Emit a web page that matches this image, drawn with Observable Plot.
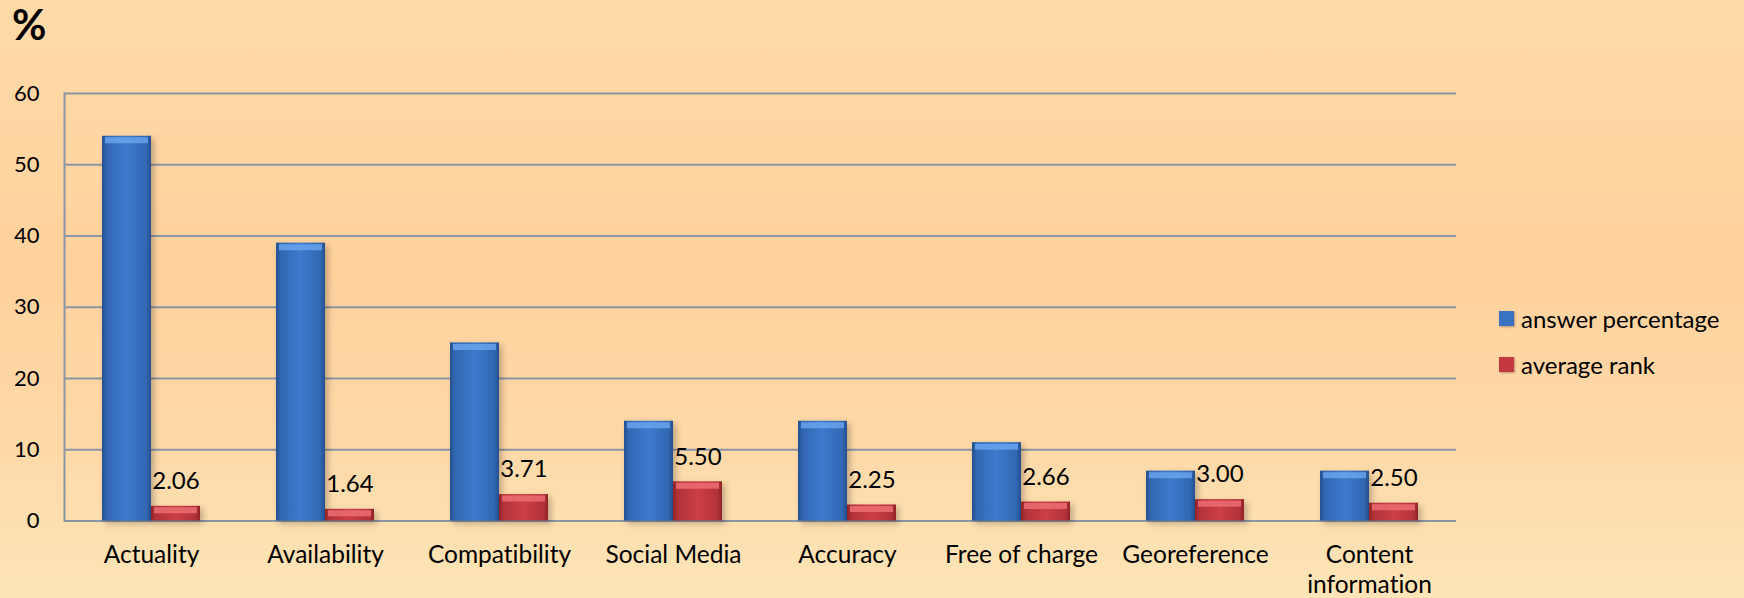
<!DOCTYPE html>
<html>
<head>
<meta charset="utf-8">
<script src="https://cdn.jsdelivr.net/npm/d3@7"></script>
<script src="https://cdn.jsdelivr.net/npm/@observablehq/plot@0.6"></script>
<style>
  html, body { margin: 0; padding: 0; }
  body { width: 1744px; height: 598px; overflow: hidden; }
  #wrap {
    position: relative; width: 1744px; height: 598px;
    background: linear-gradient(to bottom, #ffdaa8 0%, #ffd29d 45%, #fed9a8 75%, #fde5b7 100%);
    font-family: Lato, "Noto Sans", sans-serif; color: #000;
    font-variant-ligatures: none;
  }
  #chart { position: absolute; left: 0; top: 0; }
  #chart svg { font-variant-ligatures: none; }
  #pct { position: absolute; left: 12px; top: 3px; font: bold 42px/1 Lato, sans-serif; }
  #legend { position: absolute; left: 1499px; top: 303px; font-size: 24px; }
  #legend .item { display: flex; align-items: center; height: 30px; margin-bottom: 16px; }
  #legend .sw { width: 15px; height: 15px; margin-right: 7px; box-shadow: 1px 1px 2px rgba(0,0,0,0.3); }
  g[aria-label="bar"] rect { filter: drop-shadow(3px 3px 3px rgba(0,0,0,0.25)); }
</style>
</head>
<body>
<div id="wrap">
  <div id="pct">%</div>
  <div id="chart"></div>
  <div id="legend"></div>
</div>
<script>
const categories = ["Actuality", "Availability", "Compatibility", "Social Media", "Accuracy", "Free of charge", "Georeference", "Content information"];
const tickLabels = ["Actuality", "Availability", "Compatibility", "Social Media", "Accuracy", "Free of charge", "Georeference", "Content\ninformation"];
const answerPercentage = [54, 39, 25, 14, 14, 11, 7, 7];
const averageRank = [2.06, 1.64, 3.71, 5.50, 2.25, 2.66, 3.00, 2.50];
const seriesNames = ["answer percentage", "average rank"];
const yTicks = [0, 10, 20, 30, 40, 50, 60];

const seriesColors = ["#3a72c2", "#c3393e"];

const answers = categories.map((c, i) => ({cat: c, series: seriesNames[0], value: answerPercentage[i]}));
const ranks = categories.map((c, i) => ({cat: c, series: seriesNames[1], value: averageRank[i]}));

function defsMark() {
  const defs = d3.create("svg:defs");
  const grads = {
    gBlue: [["0%", "#23508f"], ["10%", "#3267b3"], ["50%", "#3d7acd"], ["90%", "#3267b3"], ["100%", "#23508f"]],
    gRed: [["0%", "#8f2327"], ["10%", "#b3333a"], ["50%", "#cc3f45"], ["90%", "#b3333a"], ["100%", "#8f2327"]]
  };
  for (const [id, stops] of Object.entries(grads)) {
    const g = defs.append("linearGradient").attr("id", id).attr("x1", "0").attr("x2", "1").attr("y1", "0").attr("y2", "0");
    for (const [o, c] of stops) g.append("stop").attr("offset", o).attr("stop-color", c);
  }
  return defs.node();
}

const grid = "#8a95a5";

const chart = Plot.plot({
  width: 1744,
  height: 598,
  marginLeft: 62,
  marginRight: 287,
  marginTop: 93,
  marginBottom: 77.5,
  style: {background: "transparent", fontFamily: "Lato, 'Noto Sans', sans-serif", color: "#000"},
  fx: {domain: categories, padding: 0, label: null},
  x: {domain: seriesNames, paddingInner: 0, paddingOuter: 0.744, axis: null},
  y: {domain: [0, 60], axis: null},
  marks: [
    defsMark,
    Plot.gridY(yTicks, {stroke: grid, strokeOpacity: 1, strokeWidth: 2}),
    Plot.frame({anchor: "left", facetAnchor: "left", stroke: grid, strokeWidth: 2}),
    Plot.axisY(yTicks, {tickSize: 0, tickPadding: 25, fontSize: 22, label: null}),
    Plot.axisFx({anchor: "bottom", tickSize: 0, tickPadding: 20, fontSize: 24.5, lineHeight: 1.25,
      tickFormat: (d) => tickLabels[categories.indexOf(d)], label: null}),
    Plot.barY(answers, {fx: "cat", x: "series", y: "value", fill: "url(#gBlue)"}),
    Plot.barY(ranks, {fx: "cat", x: "series", y: "value", fill: "url(#gRed)"}),
    Plot.tickY(answers, {fx: "cat", x: "series", y: "value", stroke: "#6aa3ec", strokeWidth: 6, dy: 4, insetLeft: 3, insetRight: 3, strokeOpacity: 0.85}),
    Plot.tickY(ranks, {fx: "cat", x: "series", y: "value", stroke: "#ec6d72", strokeWidth: 6, dy: 4, insetLeft: 3, insetRight: 3, strokeOpacity: 0.85}),
    Plot.text(ranks, {fx: "cat", x: "series", y: "value", text: (d) => d.value.toFixed(2), dy: -25, fontSize: 24, fill: "#000"})
  ]
});
document.getElementById("chart").appendChild(chart);

const legend = d3.select("#legend");
seriesNames.forEach((s, i) => {
  const item = legend.append("div").attr("class", "item");
  item.append("div").attr("class", "sw").style("background", seriesColors[i]);
  item.append("span").text(s);
});
</script>
</body>
</html>
